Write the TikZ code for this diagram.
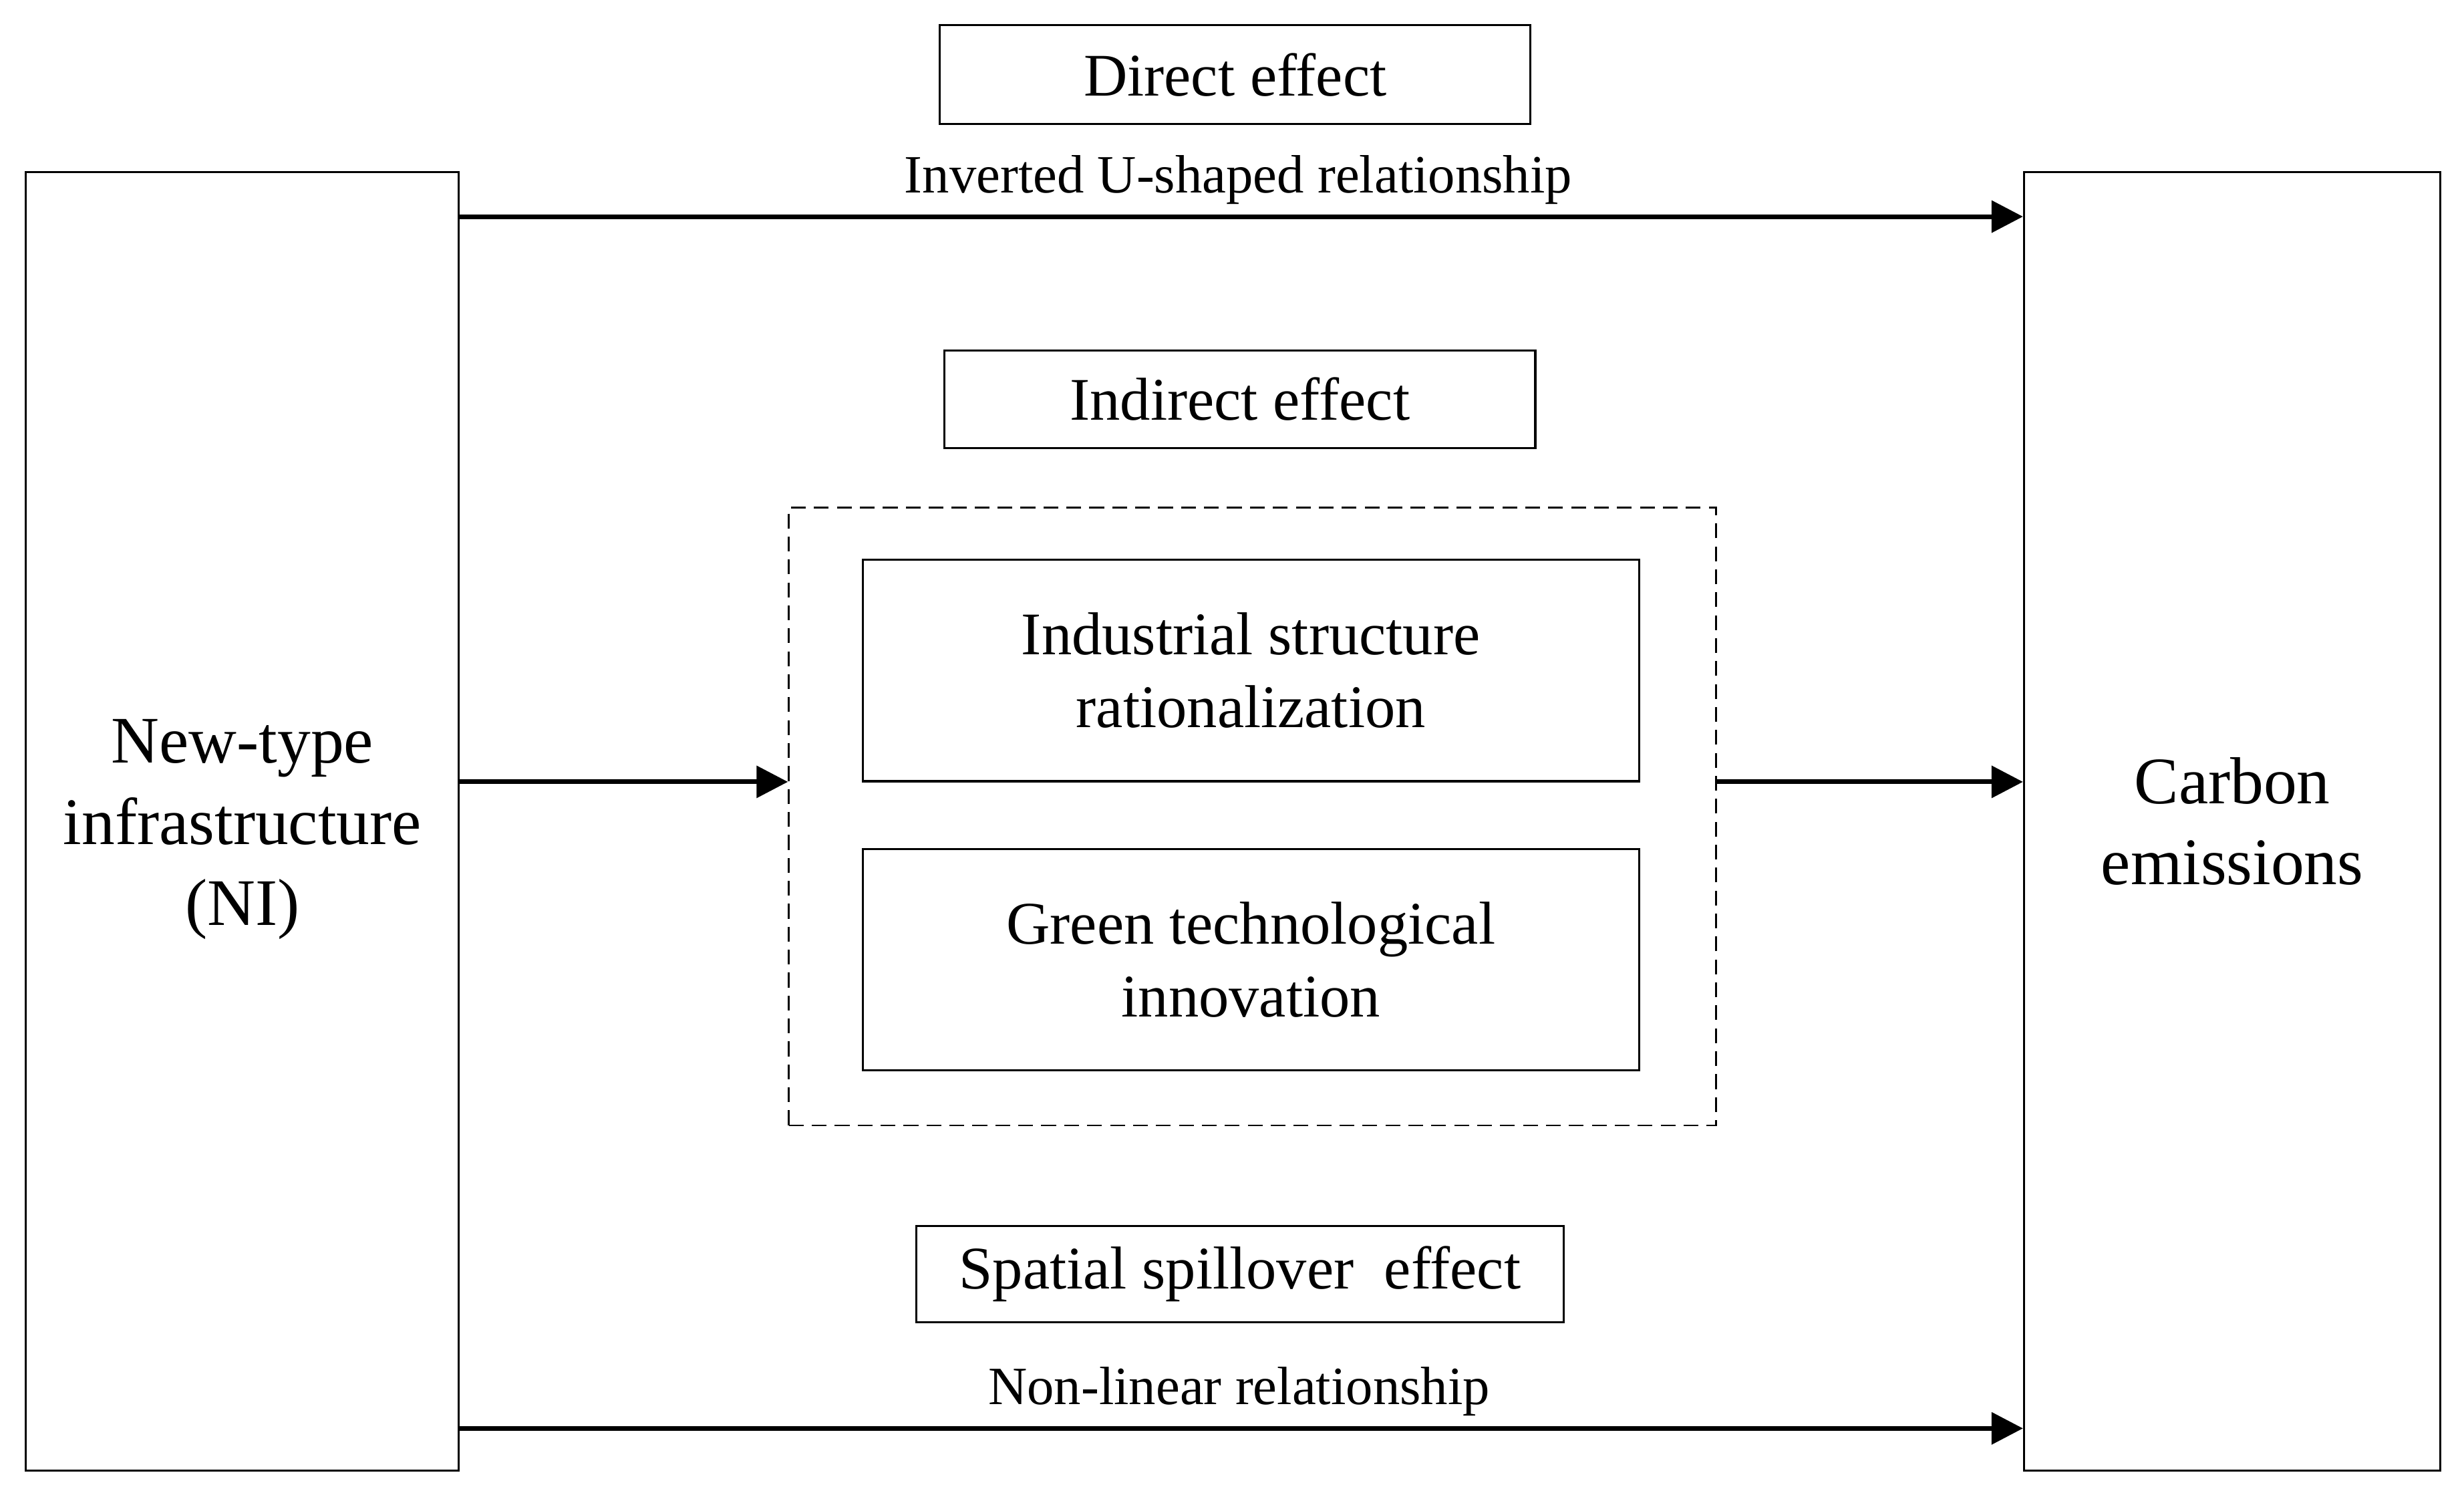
\documentclass[tikz,border=0pt]{standalone}
\usepackage{fontspec}
\setmainfont{Liberation Serif}
\usetikzlibrary{arrows.meta}
\begin{document}
\begin{tikzpicture}[x=0.5pt,y=-0.5pt,
  box/.style={draw, line width=0.65pt, inner sep=0pt, align=center,
    font=\fontsize{19.25}{23.25}\selectfont},
  bigbox/.style={box, font=\fontsize{21.15}{25.85}\selectfont},
  lab/.style={inner sep=0pt, anchor=base, font=\fontsize{17.15}{20}\selectfont},
  arr/.style={-{Triangle[length=10pt,width=10pt]}, line width=1.5pt},
  dashbox/.style={draw, line width=0.6pt, dash pattern=on 4.7pt off 2.6pt, inner sep=0pt}]
\useasboundingbox (0,0) rectangle (1568,952);
\fill[white] (0,0) rectangle (1568,952);

\node[bigbox, minimum width=137.75pt, minimum height=413pt] (ni) at (154.25,522.5) {\rule{0pt}{19pt}New-type\\infrastructure\\(NI)};
\node[bigbox, minimum width=132.5pt, minimum height=413pt] (ce) at (1420.5,522.5) {Carbon\\emissions};

\node[box, minimum width=188pt, minimum height=31.5pt] (direct) at (786,47.5) {Direct effect};
\node[box, minimum width=188pt, minimum height=31pt] (indirect) at (789,254) {Indirect effect};
\node[dashbox, minimum width=295pt, minimum height=196.5pt] (med) at (797,519.5) {};
\node[box, minimum width=247pt, minimum height=70.5pt] (isr) at (796,426.5) {Industrial structure\\rationalization};
\node[box, minimum width=247pt, minimum height=70.5pt] (gti) at (796,610.5) {Green technological\\innovation};
\node[box, minimum width=206pt, minimum height=30.5pt] (spill) at (789,810.5) {Spatial spillover~ effect};

\node[lab] (inv) at (788,122.5) {Inverted U-shaped relationship};
\node[lab] (nonlin) at (788.5,893.6) {Non-linear relationship};

\draw[arr] (ni.east |- 0,137.8) -- (ce.west |- 0,137.8);
\draw[arr] (ni.east |- 0,497.4) -- (med.west |- 0,497.4);
\draw[arr] (med.east |- 0,497.4) -- (ce.west |- 0,497.4);
\draw[arr] (ni.east |- 0,908.7) -- (ce.west |- 0,908.7);
\end{tikzpicture}
\end{document}
